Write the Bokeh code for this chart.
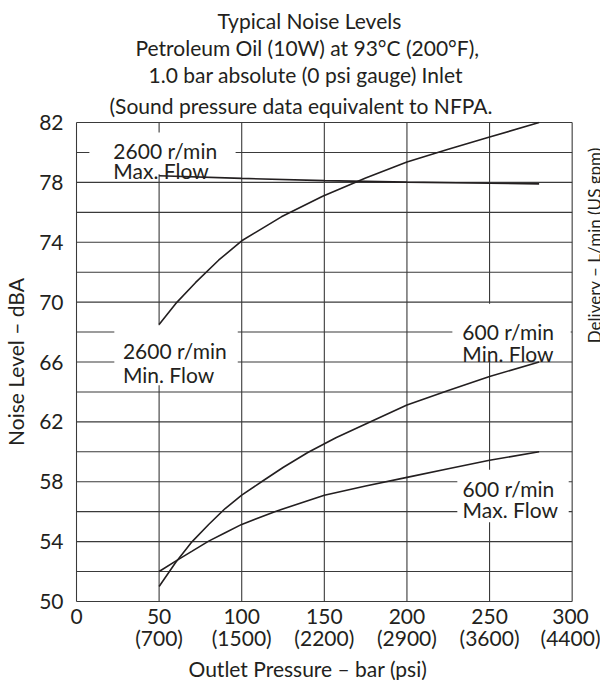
import math
from bokeh.plotting import figure
from bokeh.models import Range1d, FixedTicker, Label, BoxAnnotation, Title
from bokeh.embed import file_html
from bokeh.resources import INLINE

# ---- data ----
title_lines = [
    "Typical Noise Levels",
    "Petroleum Oil (10W) at 93°C (200°F),",
    "1.0 bar absolute (0 psi gauge) Inlet",
    "(Sound pressure data equivalent to NFPA.",
]
x_label = "Outlet Pressure – bar (psi)"
y_label = "Noise Level – dBA"
right_label = "Delivery – L/min (US gpm)"

x_ticks = [0, 50, 100, 150, 200, 250, 300]
x_tick_labels = ["0", "50\n(700)", "100\n(1500)", "150\n(2200)", "200\n(2900)", "250\n(3600)", "300\n(4400)"]
y_ticks = [50, 54, 58, 62, 66, 70, 74, 78, 82]
y_grid = [50, 52, 54, 56, 58, 60, 62, 64, 66, 68, 70, 72, 74, 76, 78, 80, 82]

# 2600 r/min, max. flow
x_2600_max = [50, 100, 150, 200, 250, 280]
y_2600_max = [78.45, 78.27, 78.12, 78.02, 77.94, 77.9]
# 2600 r/min, min. flow
x_2600_min = [50, 60, 72, 86, 100, 124, 149, 175, 200, 225, 249, 280]
y_2600_min = [68.5, 69.9, 71.3, 72.8, 74.1, 75.7, 77.08, 78.3, 79.36, 80.22, 81.0, 82.0]
# 600 r/min, min. flow
x_600_min = [50, 60, 70, 80, 90, 100, 112, 125, 140, 157, 175, 200, 225, 250, 280]
y_600_min = [51.0, 52.6, 54.0, 55.14, 56.21, 57.1, 58.0, 58.95, 59.95, 60.94, 61.86, 63.13, 64.1, 65.03, 66.0]
# 600 r/min, max. flow
x_600_max = [50, 61, 70, 80, 90, 100, 120, 150, 175, 200, 225, 250, 280]
y_600_max = [52.0, 52.76, 53.36, 54.03, 54.59, 55.15, 56.0, 57.1, 57.71, 58.29, 58.87, 59.43, 60.0]

curve_labels = [
    ("2600 r/min", "Max. Flow"),
    ("2600 r/min", "Min. Flow"),
    ("600 r/min", "Min. Flow"),
    ("600 r/min", "Max. Flow"),
]

FONT = "Lato"
INK = "#231f20"
GRID = "#3a3a3a"
FS = "21px"

# the frame runs on to the page edge so the right-hand title is cut like the original;
# the chart box itself (0-300 bar, 50-82 dBA) is drawn from the grid values
p = figure(width=600, height=680, x_range=Range1d(-0.6, 317.15), y_range=Range1d(49.93, 82.07),
           output_backend="svg", toolbar_location=None, title=None,
           min_border_left=72, min_border_right=0, min_border_top=121, min_border_bottom=70)
p.background_fill_color = "white"
p.border_fill_color = "white"
p.outline_line_color = None
p.grid.visible = False

# axes
p.xaxis.ticker = FixedTicker(ticks=x_ticks)
p.xaxis.major_label_overrides = {t: s for t, s in zip(x_ticks, x_tick_labels)}
p.yaxis.ticker = FixedTicker(ticks=y_ticks)
for ax in (p.xaxis[0], p.yaxis[0]):
    ax.axis_line_color = None
    ax.major_tick_line_color = None
    ax.minor_tick_line_color = None
    ax.major_tick_out = 0
    ax.major_tick_in = 0
    ax.minor_tick_out = 0
    ax.major_label_text_font = FONT
    ax.major_label_text_font_size = FS
    ax.major_label_text_color = INK
p.xaxis.major_label_standoff = 0
p.xaxis.major_label_text_line_height = 0.9
p.yaxis.major_label_standoff = 12
p.yaxis.axis_label = y_label
p.yaxis.axis_label_text_font = FONT
p.yaxis.axis_label_text_font_size = FS
p.yaxis.axis_label_text_font_style = "normal"
p.yaxis.axis_label_text_color = INK
p.yaxis.axis_label_standoff = 8

# grid lines and chart box
x_lo, x_hi = x_ticks[0], x_ticks[-1]
y_lo, y_hi = y_grid[0], y_grid[-1]
p.segment(x0=[x_lo] * len(y_grid), x1=[x_hi] * len(y_grid), y0=y_grid, y1=y_grid,
          line_color=GRID, line_width=1.1)
p.segment(x0=x_ticks, x1=x_ticks, y0=[y_lo] * len(x_ticks), y1=[y_hi] * len(x_ticks),
          line_color=GRID, line_width=1.1)

# white label backgrounds (cut the grid like the original)
boxes = [
    (7.8, 96.3, 81.34, 78.55),
    (22.9, 97.6, 68.45, 64.45),
    (227.5, 299.1, 69.9, 66.15),
    (230.5, 297.9, 58.8, 55.3),
]
for l, r, t, b in boxes:
    p.add_layout(BoxAnnotation(left=l, right=r, top=t, bottom=b, fill_color="white",
                               fill_alpha=1.0, line_color=None, level="annotation"))

# curves
for xs, ys in [(x_2600_max, y_2600_max), (x_2600_min, y_2600_min),
               (x_600_min, y_600_min), (x_600_max, y_600_max)]:
    p.line(xs, ys, line_color=INK, line_width=1.6)

# curve labels
label_pos = [
    (22.3, 80.12, 78.81),
    (28.1, 66.75, 65.17),
    (233.5, 68.02, 66.54),
    (233.7, 57.52, 56.15),
]
for (l1, l2), (x, y1, y2) in zip(curve_labels, label_pos):
    for txt, yy in ((l1, y1), (l2, y2)):
        p.add_layout(Label(x=x, y=yy, text=txt, text_font=FONT, text_font_size=FS,
                           text_color=INK, text_align="left", text_baseline="alphabetic"))

# right-hand title, cut by the page edge as in the original
p.add_layout(Label(x=307.2, y=73.8, text=right_label, text_font=FONT, text_font_size="17px",
                   text_color=INK, text_align="center", text_baseline="top", angle=math.pi / 2))


def make_title(txt, off, so):
    return Title(text=txt, align="left", offset=off, standoff=so, text_font=FONT,
                 text_font_size=FS, text_font_style="normal", text_color=INK)


# title lines (added nearest-first), left-aligned with offsets from the frame's left edge
title_offsets = [142, 60, 73, 34]
title_standoffs = [0, 0, 0, 8]
for txt, off, so in reversed(list(zip(title_lines, title_offsets, title_standoffs))):
    p.add_layout(make_title(txt, off, so), "above")

# x axis title
p.add_layout(make_title(x_label, 113, 0), "below")

open("out.html", "w").write(file_html(p, INLINE))
